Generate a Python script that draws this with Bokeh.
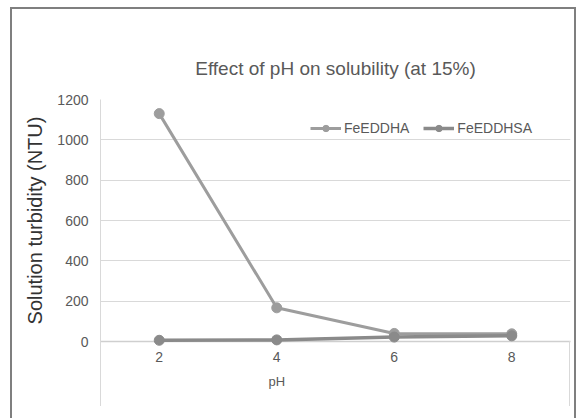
from bokeh.plotting import figure
from bokeh.models import (Range1d, FixedTicker, Title, Legend, LegendItem, InlineStyleSheet)
from bokeh.embed import file_html
from bokeh.resources import INLINE

# ---- data ----
ph = [2, 4, 6, 8]
fe_eddha = [1130, 167, 40, 38]
fe_eddhsa = [6, 8, 22, 28]
y_ticks = [0, 200, 400, 600, 800, 1000, 1200]
x_ticks = [2, 4, 6, 8]
x_bounds = [1, 9]

SANS = "Liberation Sans"

p = figure(width=576, height=418, output_backend="svg", toolbar_location=None,
           x_range=Range1d(x_bounds[0], x_bounds[1]), y_range=Range1d(0, 1200),
           min_border_left=100, min_border_right=6, min_border_top=99, min_border_bottom=77)
p.outline_line_color = None
p.background_fill_color = "white"
p.border_fill_color = "white"

# chart-area border and category-boundary lines (pure decoration, CSS)
css = """
:host { position: relative; }
:host::after {
  content: ""; position: absolute; left: 10px; top: 7px; width: 562px; height: 420px;
  border: 2px solid #7f7f7f; border-bottom: none; pointer-events: none; z-index: 10;
}
:host::before {
  content: ""; position: absolute; left: 100px; top: 341px; width: 468px; height: 65px;
  border-left: 1px solid #d9d9d9; border-right: 1px solid #d9d9d9;
  pointer-events: none; z-index: 10;
}
"""
p.stylesheets = [InlineStyleSheet(css=css)]

# title
p.title.text = "Effect of pH on solubility (at 15%)"
p.title.align = "center"
p.title.text_font = SANS
p.title.text_font_size = "19px"
p.title.text_font_style = "normal"
p.title.text_color = "#595959"
p.title.standoff = 42

# y axis
yax = p.yaxis[0]
yax.ticker = FixedTicker(ticks=y_ticks)
yax.axis_line_color = "#d9d9d9"
yax.major_tick_line_color = None
yax.minor_tick_line_color = None
yax.major_label_text_font = SANS
yax.major_label_text_font_size = "14px"
yax.major_label_text_color = "#595959"
yax.major_label_standoff = 6
yax.axis_label = "Solution turbidity (NTU)"
yax.axis_label_text_font = SANS
yax.axis_label_text_font_size = "20px"
yax.axis_label_text_font_style = "normal"
yax.axis_label_text_color = "#333333"
yax.axis_label_standoff = 8

# x axis
xax = p.xaxis[0]
xax.ticker = FixedTicker(ticks=x_ticks, minor_ticks=[])
xax.axis_line_color = "#cfcfcf"
xax.axis_line_width = 1.5
xax.major_tick_line_color = None
xax.minor_tick_line_color = None
xax.major_label_text_font = SANS
xax.major_label_text_font_size = "14px"
xax.major_label_text_color = "#595959"
xax.major_label_standoff = 4

p.add_layout(Title(text="pH", align="left", offset=168, text_font=SANS,
                   text_font_size="13px", text_font_style="normal",
                   text_color="#595959", standoff=14), "below")

# grid
p.xgrid.grid_line_color = None
p.ygrid.ticker = FixedTicker(ticks=y_ticks)
p.ygrid.grid_line_color = "#d9d9d9"
p.ygrid.grid_line_width = 1

# series
c1 = "#9d9d9d"
c2 = "#8a8a8a"
l1 = p.line(ph, fe_eddha, line_color=c1, line_width=3, level="overlay")
s1 = p.scatter(ph, fe_eddha, size=10, fill_color=c1, line_color=c1, level="overlay")
l2 = p.line(ph, fe_eddhsa, line_color=c2, line_width=3.5, level="overlay")
s2 = p.scatter(ph, fe_eddhsa, size=10, fill_color=c2, line_color=c2, level="overlay")

legend = Legend(items=[LegendItem(label="FeEDDHA", renderers=[l1, s1]),
                       LegendItem(label="FeEDDHSA", renderers=[l2, s2])],
                orientation="horizontal", location=(210, 205),
                padding=0, spacing=14, margin=0,
                glyph_width=31, glyph_height=16, label_height=16, label_standoff=3,
                label_text_font=SANS, label_text_font_size="14px",
                label_text_color="#595959",
                border_line_color=None, background_fill_alpha=0)
p.add_layout(legend, "center")

open("out.html", "w").write(file_html(p, INLINE))
